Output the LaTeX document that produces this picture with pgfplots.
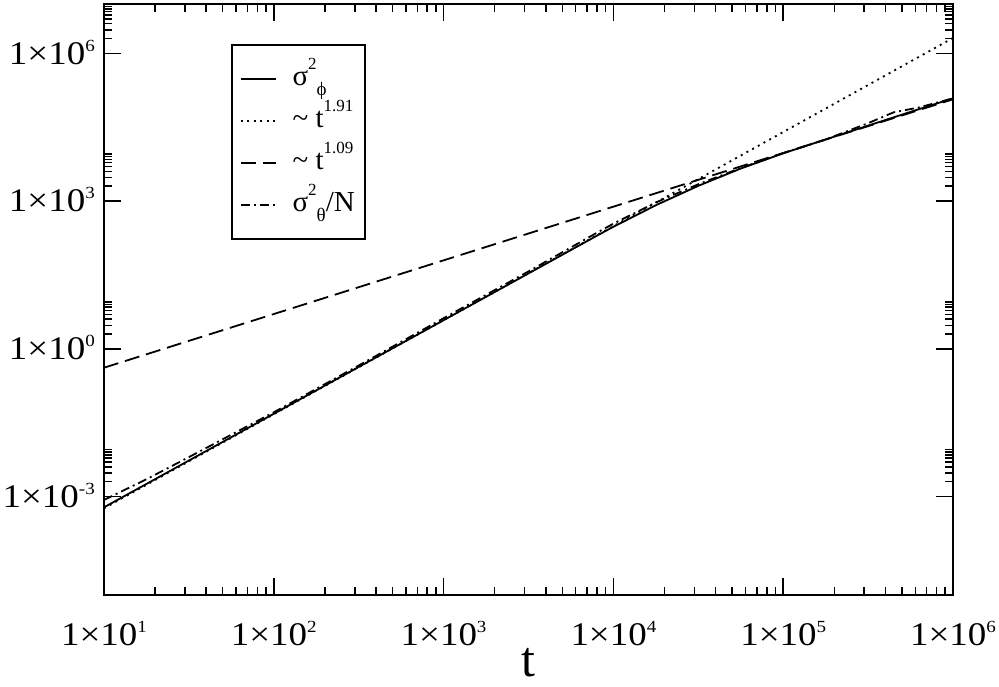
\documentclass[border=0pt]{standalone}
\usepackage{fontspec}
\setmainfont{Liberation Serif}
\usepackage{pgfplots}
\pgfplotsset{compat=1.18}
\newcommand{\sx}[1]{\smash{\raisebox{13pt}{\fontsize{17}{17}\selectfont #1}}}
\newcommand{\tl}[1]{\scalebox{1.12}[1]{1×10\sx{#1}}}
\newcommand{\lsup}[1]{\smash{\raisebox{16pt}{\fontsize{17}{17}\selectfont #1}}}
\newcommand{\lsub}[1]{\smash{\raisebox{-10pt}{\fontsize{19}{19}\selectfont #1}}}
\begin{document}
\begin{tikzpicture}[x=1pt,y=1pt]
\useasboundingbox (-104,-91) rectangle (895,595);
\begin{axis}[
  at={(0,0)}, anchor=south west,
  scale only axis, width=849pt, height=591pt,
  xmode=log, ymode=log,
  xmin=10, xmax=1e6, ymin=1e-5, ymax=1e7,
  axis line style={line width=2pt},
  tick style={line width=1.5pt, black},
  major tick length=17pt, minor tick length=8pt,
  tick align=inside,
  xtick={10,100,1000,10000,100000,1000000},
  xticklabels={\tl{1},\tl{2},\tl{3},\tl{4},\tl{5},\tl{6}},
  ytick={1e-3,1,1e3,1e6},
  yticklabels={\tl{-3},\tl{0},\tl{3},\tl{6}},
  minor xtick={20,30,40,50,60,70,80,90,200,300,400,500,600,700,800,900,2000,3000,4000,5000,6000,7000,8000,9000,20000,30000,40000,50000,60000,70000,80000,90000,200000,300000,400000,500000,600000,700000,800000,900000},
  minor ytick={2e-3,3e-3,4e-3,5e-3,6e-3,7e-3,8e-3,9e-3,2,3,4,5,6,7,8,9,2000,3000,4000,5000,6000,7000,8000,9000,2e6,3e6,4e6,5e6,6e6,7e6,8e6,9e6},
  ticklabel style={font=\fontsize{33}{33}\selectfont},
  xticklabel style={anchor=north, inner sep=0pt, yshift=-28pt},
  yticklabel style={anchor=east, inner sep=0pt, xshift=-9pt},
  xlabel={t},
  xlabel style={at={(axis description cs:0.5,0)}, anchor=base, yshift=-81pt, inner sep=0pt, font=\fontsize{50}{50}\selectfont},
  legend style={at={(axis description cs:0.1496,0.9323)}, anchor=north west, draw=black, line width=1.6pt,
    inner xsep=8pt, inner ysep=15pt, row sep=4pt, font=\fontsize{29}{29}\selectfont,
    cells={anchor=west}, nodes={text height=24pt, text depth=10pt, inner sep=2pt},
    /tikz/every odd column/.append style={column sep=14pt}},
  legend image code/.code={\draw[#1] (0pt,0pt) -- (35pt,0pt);},
]
\addplot[black, line width=1.8pt] coordinates {
(10,6.026e-4) (31.62,5.370e-3) (100,4.786e-2) (316.2,0.4266) (1000,3.802) (3162,33.88) (7943,195.0) (10000,299.9) (17783,820.4) (31623,2032) (56234,4560) (100000,9290) (177828,17783) (316228,33884) (562341,64565) (1000000,121619)};
\addlegendentry{σ\lsup{2}\lsub{ϕ}}
\addplot[black, line width=1.8pt, dash pattern=on 2pt off 4.5pt] coordinates {(10,5.754e-4) (1000000,2.042e6)};
\addlegendentry{\textasciitilde\ t\lsup{1.91}}
\addplot[black, line width=1.8pt, dash pattern=on 15pt off 7pt] coordinates {(10,0.4121) (1000000,116145)};
\addlegendentry{\textasciitilde\ t\lsup{1.09}}
\addplot[black, line width=1.8pt, dash pattern=on 9pt off 4pt on 2pt off 4pt] coordinates {
(10,8.511e-4) (17.78,2.239e-3) (31.62,6.310e-3) (100,0.05129) (316.2,0.4571) (1000,4.169) (3162,37.15) (7943,223.9) (10000,346.7) (17783,933.3) (31623,2188) (56234,4677) (100000,9333) (177828,17783) (316228,38019) (446684,63096) (630957,79433) (1000000,121619)};
\addlegendentry{σ\lsup{2}\lsub{θ}/N}
\end{axis}
\end{tikzpicture}
\end{document}
